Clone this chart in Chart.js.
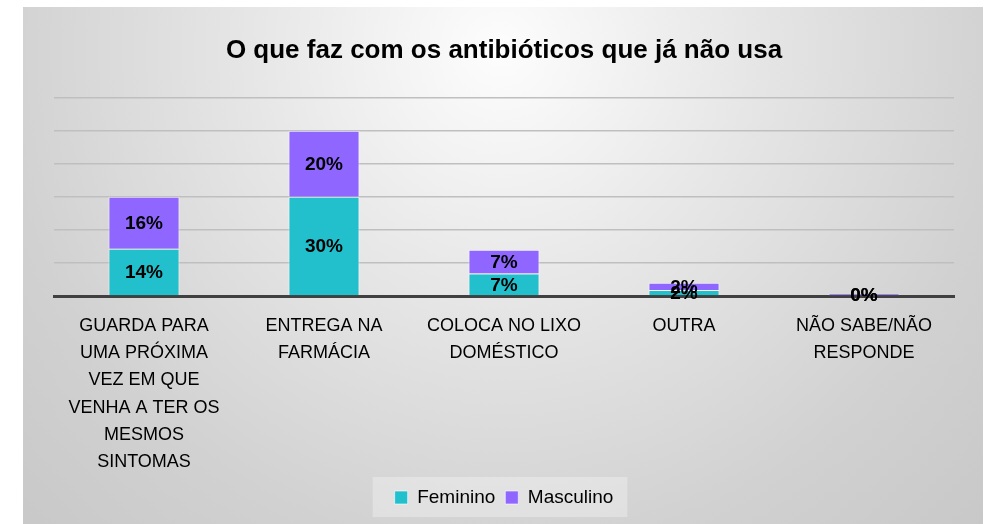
<!DOCTYPE html>
<html>
<head>
<meta charset="utf-8">
<script src="https://cdn.jsdelivr.net/npm/chart.js@4.4.1/dist/chart.umd.min.js"></script>
<style>
  html, body { margin: 0; padding: 0; background: #fff; }
  #wrap { width: 993px; height: 524px; position: relative; }
</style>
</head>
<body>
<div id="wrap"><canvas id="chartCanvas" width="993" height="524"></canvas></div>
<script>
// Dados do gráfico
const categorias = [
    ['GUARDA PARA', 'UMA PRÓXIMA', 'VEZ EM QUE', 'VENHA A TER OS', 'MESMOS', 'SINTOMAS'],
    ['ENTREGA NA', 'FARMÁCIA'],
    ['COLOCA NO LIXO', 'DOMÉSTICO'],
    'OUTRA',
    ['NÃO SABE/NÃO', 'RESPONDE']
];
const feminino = [14.3, 30.1, 6.8, 1.8, 0.3];
const masculino = [15.8, 20.0, 7.2, 2.2, 0.4];

const FONTE = "'Liberation Sans Narrow', 'Arial Narrow', 'Liberation Sans', Arial, sans-serif";

// Fundo com gradiente radial
const fundo = {
    id: 'fundo',
    beforeDraw(chart) {
        const ctx = chart.ctx;
        ctx.save();
        ctx.fillStyle = '#ffffff';
        ctx.fillRect(0, 0, chart.width, chart.height);
        const g = ctx.createRadialGradient(500, 50, 0, 500, 50, 720);
        g.addColorStop(0, '#fdfdfd');
        g.addColorStop(0.35, '#e6e6e6');
        g.addColorStop(0.7, '#d1d1d1');
        g.addColorStop(1, '#c6c6c6');
        ctx.fillStyle = g;
        ctx.fillRect(23, 7, 960, 517);
        // caixa da legenda
        const lg = chart.legend;
        if (lg && lg.legendHitBoxes && lg.legendHitBoxes.length) {
            const hb = lg.legendHitBoxes;
            const l = hb[0].left - 22;
            const r = hb[hb.length - 1].left + hb[hb.length - 1].width + 14;
            ctx.fillStyle = 'rgba(255,255,255,0.3)';
            ctx.fillRect(l, lg.top - 1, r - l, lg.bottom - lg.top + 1);
        }
        ctx.restore();
    }
};

// Rótulos de valores no centro de cada segmento
const rotulos = {
    id: 'rotulos',
    afterDatasetsDraw(chart) {
        const ctx = chart.ctx;
        ctx.save();
        ctx.font = 'bold 19px ' + FONTE;
        ctx.fillStyle = '#000';
        ctx.textAlign = 'center';
        ctx.textBaseline = 'middle';
        chart.data.datasets.forEach((ds, i) => {
            const meta = chart.getDatasetMeta(i);
            meta.data.forEach((bar, j) => {
                const p = bar.getProps(['x', 'y', 'base'], true);
                ctx.fillText(Math.round(ds.data[j]) + '%', p.x, (p.y + p.base) / 2 + 1);
            });
        });
        ctx.restore();
    }
};

const ctx = document.getElementById('chartCanvas').getContext('2d');
new Chart(ctx, {
    type: 'bar',
    data: {
        labels: categorias,
        datasets: [
            {
                label: 'Feminino',
                data: feminino,
                backgroundColor: '#22c0cc',
                borderColor: 'rgba(255,255,255,0.6)',
                borderWidth: 1
            },
            {
                label: 'Masculino',
                data: masculino,
                backgroundColor: '#8f66ff',
                borderColor: 'rgba(255,255,255,0.6)',
                borderWidth: 1
            }
        ]
    },
    options: {
        responsive: false,
        animation: false,
        categoryPercentage: 1,
        barPercentage: 0.395,
        layout: { padding: { left: 54, right: 39, top: 0, bottom: 7 } },
        plugins: {
            title: {
                display: true,
                text: 'O que faz com os antibióticos que já não usa',
                color: '#000',
                font: { family: FONTE, size: 26, weight: 'bold', lineHeight: 1.2 },
                padding: { top: 35, bottom: 32 }
            },
            legend: {
                position: 'bottom',
                labels: {
                    color: '#000',
                    boxWidth: 13,
                    boxHeight: 13,
                    padding: 10,
                    font: { family: FONTE, size: 19 }
                }
            },
            tooltip: { enabled: false }
        },
        scales: {
            x: {
                stacked: true,
                grid: { display: false, drawTicks: false },
                border: { color: '#404040', width: 3 },
                ticks: {
                    color: '#000',
                    padding: 16,
                    maxRotation: 0,
                    autoSkip: false,
                    font: { family: FONTE, size: 18, lineHeight: 1.52 }
                },
                afterFit(scale) { scale.height = 182; }
            },
            y: {
                stacked: true,
                min: 0,
                max: 60,
                ticks: { display: false, stepSize: 10 },
                grid: { color: '#bfbfbf', lineWidth: 1.5, drawTicks: false },
                border: { display: false },
                afterFit(scale) { scale.width = 0; }
            }
        }
    },
    plugins: [fundo, rotulos]
});
</script>
</body>
</html>
